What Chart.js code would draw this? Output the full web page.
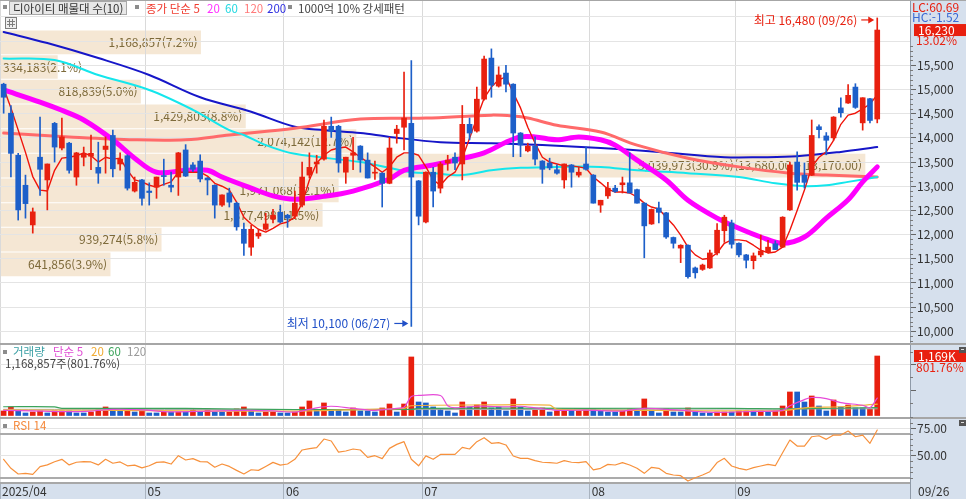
<!DOCTYPE html>
<html lang="ko">
<head>
<meta charset="utf-8">
<title>디아이티 일봉</title>
<script src="https://cdn.jsdelivr.net/npm/chart.js@4.4.1/dist/chart.umd.min.js"></script>
<style>
  html, body { margin: 0; padding: 0; background: #fff; overflow: hidden; }
  #board { position: relative; width: 966px; height: 499px; background: #fff; }
  #board canvas { position: absolute; left: 0; }
</style>
</head>
<body>
<div id="board">
  <canvas id="profile-chart" width="910" height="343" style="top:0;width:910px;height:343px"></canvas>
  <canvas id="price-chart" width="966" height="343" style="top:0;width:966px;height:343px"></canvas>
  <canvas id="volume-chart" width="966" height="73" style="top:343px;width:966px;height:73px"></canvas>
  <canvas id="rsi-chart" width="966" height="83" style="top:416px;width:966px;height:83px"></canvas>
</div>
<script>
/* ===============================================
   디아이티 daily chart - candles, moving averages,
   volume profile, volume and RSI panels
   =============================================== */

// ── Axis data ──
var SLOTS = 125;                       // 121 trading days + blank right margin
var MONTH_START = [0, 20, 39, 58, 81, 101];
var MONTH_LABEL = ['2025/04', '05', '06', '07', '08', '09'];
var LAST_DATE = '09/26';
var PRICE_TICKS = [10000, 10500, 11000, 11500, 12000, 12500, 13000, 13500, 14000, 14500, 15000, 15500, 16000, 16500];
var VOL_TICKS = [0, 500, 1000];
var RSI_TICKS = [30, 50, 70, 75];

// ── Daily prices (2025/04/03 .. 2025/09/26) ──
var OPEN = [
  15110, 14510, 13640, 13020, 12200, 13600, 13130, 14300, 13790, 13890,
  13190, 13600, 13620, 13390, 13760, 14050, 13460, 13630, 12900, 13130,
  12900, 12980, 13220, 13020, 13190, 13750, 13440, 13520, 13170, 13020,
  12610, 12860, 12650, 12110, 11740, 11970, 12110, 12320, 12460, 12400,
  12380, 12610, 13230, 13460, 13560, 14240, 14240, 13290, 13640, 13830,
  13540, 13270, 13270, 13060, 14090, 14220, 14300, 13110, 12260, 13290,
  12960, 13480, 13600, 13460, 14280, 14140, 14800, 15650, 15070, 15340,
  15110, 14100, 13730, 13830, 13520, 13480, 13340, 13130, 13440, 13230,
  13460, 13230, 12610, 12800, 12960, 13030, 13070, 12930, 12650, 12220,
  12550, 12450, 11940, 11720, 11780, 11310, 11280, 11310, 11620, 12080,
  12240, 11820, 11580, 11460, 11580, 11640, 11810, 11740, 12510, 13500,
  13230, 13230, 14230, 14040, 14000, 14620, 14720, 15050, 14310, 14810,
  14390
];
var HIGH = [
  15130, 14670, 13680, 13230, 12550, 14430, 13460, 14320, 14410, 13910,
  13700, 13810, 14060, 13910, 14020, 14160, 13690, 13650, 13190, 13140,
  13070, 13190, 13560, 13290, 13700, 13860, 13490, 13650, 13180, 13030,
  12820, 12960, 12670, 12240, 12190, 12110, 12440, 12520, 12610, 12420,
  12900, 13500, 13690, 13640, 14370, 14430, 14260, 13600, 14010, 13840,
  13690, 13520, 13280, 14010, 14260, 15360, 15600, 13120, 13300, 13390,
  13500, 13640, 13690, 14670, 14410, 15050, 15690, 15840, 15470, 15500,
  15120, 14110, 13890, 14020, 13530, 13580, 13440, 13460, 13450, 13390,
  13810, 13240, 12710, 13080, 13020, 13190, 13690, 12940, 12660, 12530,
  12670, 12460, 11950, 11790, 11790, 11330, 11390, 11680, 12230, 12400,
  12300, 11830, 11590, 11620, 11990, 11880, 11870, 12370, 13500, 13710,
  13480, 14370, 14270, 14110, 14440, 14830, 15100, 15120, 14830, 14820,
  16480
];
var LOW = [
  14510, 13190, 12300, 12340, 12030, 12810, 12510, 13500, 13750, 13270,
  13020, 13420, 13340, 13060, 13270, 13190, 13330, 12920, 12880, 12610,
  12610, 12750, 13020, 12880, 12810, 13200, 13300, 13090, 12820, 12340,
  12580, 12570, 12090, 11570, 11570, 11920, 12090, 12240, 12240, 12150,
  12330, 12570, 13170, 13270, 13540, 14010, 13290, 13060, 13340, 13290,
  13170, 13140, 12570, 13050, 13890, 13750, 10100, 12200, 12240, 12570,
  12860, 13330, 13340, 13130, 13960, 14120, 14780, 14840, 15050, 14950,
  13610, 13610, 13710, 13440, 13060, 13340, 13250, 12960, 12980, 13190,
  13330, 12650, 12460, 12750, 12870, 12860, 12860, 12650, 11520, 12210,
  12240, 11920, 11720, 11420, 11100, 11100, 11260, 11300, 11580, 11840,
  11720, 11540, 11310, 11290, 11540, 11620, 11690, 11730, 12500, 12920,
  12960, 13220, 14000, 13650, 13950, 14430, 14710, 14610, 14160, 14310,
  14310
];
var CLOSE = [
  14840, 13680, 12510, 12640, 12470, 13350, 13460, 13810, 14020, 13330,
  13690, 13660, 13680, 13270, 13830, 13360, 13560, 12960, 13080, 12750,
  12870, 13190, 13200, 12980, 13690, 13210, 13350, 13150, 13130, 12610,
  12820, 12670, 12160, 11820, 12110, 12030, 12220, 12400, 12260, 12340,
  12650, 13190, 13390, 13500, 14240, 14140, 13480, 13600, 13690, 13540,
  13170, 13290, 13060, 13790, 14180, 14410, 13190, 12380, 13290, 12900,
  13460, 13540, 13480, 14280, 14100, 14800, 15630, 15090, 15300, 15110,
  14100, 13850, 13830, 13560, 13350, 13380, 13270, 13460, 13290, 13290,
  13350, 12650, 12710, 12960, 12890, 13070, 12860, 12650, 12180, 12520,
  12460, 11950, 11820, 11780, 11130, 11210, 11370, 11620, 12090, 12360,
  11800, 11580, 11470, 11560, 11660, 11740, 11690, 12360, 13440, 13080,
  13080, 14050, 14170, 13950, 14430, 14520, 14880, 14630, 14830, 14360,
  16230
];

// ── Price moving averages ──
var MA5 = [
  15030, 14620, 14160, 13700, 13200, 12920, 12900, 13330, 13580, 13600,
  13630, 13690, 13630, 13500, 13600, 13560, 13580, 13330, 13130, 13090,
  13020, 12980, 13040, 13090, 13290, 13290, 13290, 13290, 13210, 13060,
  13000, 12920, 12670, 12360, 12220, 12110, 12050, 12130, 12220, 12260,
  12360, 12650, 13130, 13480, 13640, 13750, 13790, 13810, 13710, 13600,
  13500, 13400, 13290, 13400, 13600, 13690, 13690, 13640, 13400, 13130,
  13020, 13190, 13290, 13580, 13990, 14410, 14820, 15050, 15200, 15260,
  14930, 14620, 14220, 13890, 13600, 13500, 13460, 13420, 13420, 13400,
  13370, 13190, 13070, 12940, 12880, 12880, 12860, 12780, 12650, 12570,
  12530, 12360, 12200, 11990, 11740, 11580, 11490, 11510, 11620, 11820,
  11890, 11890, 11870, 11780, 11680, 11620, 11640, 11740, 12090, 12500,
  12920, 13400, 13600, 13710, 13950, 14280, 14470, 14510, 14600, 14700,
  14890
];
var MA20 = [[0, 14990], [5, 14740], [8, 14570], [11, 14370], [15, 13960], [18, 13580], [21, 13290],
  [25, 13330], [28, 13330], [30, 13190], [34, 12960], [37, 12800], [40, 12730], [44, 12790],
  [48, 12900], [53, 13150], [55, 13330], [59, 13440], [62, 13540], [66, 13690], [69, 13910],
  [71, 14020], [73, 14020], [76, 13960], [79, 14020], [82, 13960], [84, 13850], [87, 13540],
  [91, 13130], [94, 12710], [98, 12340], [101, 12130], [104, 11950], [107, 11820], [110, 11950],
  [113, 12340], [116, 12720], [118, 13090], [120, 13400]];
var MA60 = [[0, 15640], [7, 15610], [13, 15300], [20, 14990], [26, 14580], [31, 14160], [33, 14060],
  [36, 13850], [40, 13670], [49, 13500], [53, 13380], [56, 13290], [59, 13270], [63, 13230],
  [67, 13330], [71, 13380], [76, 13400], [82, 13400], [87, 13330], [94, 13270], [101, 13190],
  [106, 13060], [110, 13000], [113, 13020], [116, 13090], [120, 13190]];
var MA120 = [[0, 14100], [9, 14020], [18, 13960], [25, 13960], [31, 14060], [40, 14200], [49, 14390],
  [58, 14410], [67, 14470], [70, 14450], [72, 14410], [76, 14260], [82, 14120], [87, 13850],
  [94, 13580], [101, 13400], [108, 13270], [113, 13230], [120, 13190]];
var MA200 = [[0, 16190], [6, 15960], [13, 15650], [20, 15300], [27, 14840], [34, 14540], [40, 14230],
  [44, 14160], [49, 14100], [53, 14020], [60, 13910], [67, 13890], [74, 13850], [82, 13790],
  [90, 13710], [99, 13600], [104, 13600], [109, 13620], [115, 13710], [120, 13810]];

// ── Volume profile (10 close-price bands) ──
var PROFILE_EDGES = [11130, 11640, 12150, 12660, 13170, 13680, 14190, 14700, 15210, 15720, 16230];
var PROFILE_VOL = [641856, 939274, 1877498, 1971068, 5039973, 2074142, 1429803, 818839, 334183, 1168857];

// ── Volume (thousand shares), 1 = red bar ──
var VOLUME = [
  98, 176, 117, 59, 78, 98, 59, 98, 98, 98,
  59, 59, 78, 137, 176, 137, 117, 137, 78, 137,
  59, 59, 78, 78, 78, 78, 137, 78, 137, 78,
  78, 78, 137, 176, 117, 59, 78, 78, 59, 59,
  78, 176, 293, 117, 254, 98, 117, 78, 156, 98,
  98, 78, 156, 234, 78, 234, 1150, 273, 254, 176,
  137, 98, 59, 273, 176, 215, 273, 156, 176, 98,
  332, 176, 98, 117, 156, 78, 98, 117, 117, 98,
  137, 137, 98, 78, 78, 98, 137, 117, 332, 117,
  59, 137, 78, 78, 156, 78, 59, 59, 78, 78,
  78, 98, 98, 98, 98, 78, 98, 195, 468, 468,
  273, 390, 195, 98, 312, 176, 215, 156, 156, 129.619,
  1168.857
];
var VOL_UP = [
  1, 1, 0, 0, 1, 1, 0, 1, 1, 0,
  0, 0, 1, 1, 1, 0, 0, 1, 0, 1,
  0, 0, 1, 0, 1, 0, 1, 0, 1, 0,
  0, 1, 1, 1, 0, 0, 1, 1, 0, 0,
  1, 1, 1, 0, 1, 0, 0, 0, 1, 0,
  0, 0, 1, 1, 0, 1, 1, 0, 0, 0,
  0, 0, 0, 1, 0, 1, 1, 0, 0, 0,
  1, 0, 0, 1, 1, 0, 1, 1, 0, 1,
  1, 0, 0, 0, 0, 1, 1, 0, 1, 0,
  0, 1, 0, 0, 1, 0, 0, 0, 1, 1,
  0, 1, 1, 0, 1, 0, 1, 1, 1, 0,
  0, 1, 0, 0, 1, 0, 1, 0, 0, 1,
  1
];
var VOL_MA5 = [[0, 110], [4, 100], [8, 85], [12, 95], [15, 130], [19, 120], [23, 80], [28, 95], [33, 110],
  [37, 100], [40, 75], [43, 160], [45, 190], [48, 150], [51, 110], [54, 150], [55, 170], [56, 380],
  [57, 400], [60, 400], [61, 200], [62, 160], [65, 190], [69, 180], [71, 190], [73, 160], [76, 110],
  [80, 115], [85, 95], [88, 150], [90, 140], [94, 100], [98, 70], [103, 90], [107, 110], [108, 200],
  [110, 320], [111, 360], [113, 340], [115, 260], [118, 210], [119, 160], [120, 350]];
var VOL_MA20 = [[0, 120], [20, 105], [40, 95], [50, 130], [55, 150], [56, 200], [66, 215], [75, 210],
  [76, 130], [90, 110], [107, 105], [110, 160], [115, 180], [120, 230]];
var VOL_MA60 = [[0, 180], [7, 178], [8, 150], [25, 148], [40, 125], [56, 130], [57, 150], [80, 150],
  [100, 150], [108, 140], [120, 165]];
var VOL_MA120 = [[0, 130], [60, 125], [120, 140]];

// ── RSI 14 ──
var RSI = [
  46.7, 38.5, 33.3, 33.9, 33.0, 40.0, 41.6, 44.5, 46.7, 41.6,
  44.0, 44.6, 44.3, 41.6, 46.7, 43.1, 44.3, 40.8, 41.4, 38.9,
  40.8, 43.9, 44.3, 42.4, 50.0, 46.1, 47.3, 44.6, 44.3, 39.5,
  42.4, 40.2, 36.6, 33.3, 37.2, 36.6, 40.2, 43.9, 41.4, 42.4,
  46.7, 55.2, 56.4, 57.3, 65.2, 63.4, 53.3, 54.3, 56.1, 55.2,
  48.5, 50.0, 47.3, 56.7, 60.3, 62.8, 46.7, 40.8, 49.8, 46.7,
  51.2, 51.2, 51.2, 57.6, 56.1, 62.8, 66.4, 61.3, 61.9, 59.8,
  49.7, 47.6, 47.6, 45.5, 44.0, 43.7, 43.1, 45.5, 44.0, 43.7,
  44.6, 37.0, 38.5, 42.1, 41.5, 43.7, 41.5, 38.5, 33.9, 39.4,
  38.5, 33.9, 32.4, 31.8, 26.9, 29.9, 32.4, 35.4, 43.7, 47.6,
  40.6, 38.5, 37.0, 39.1, 40.6, 42.1, 40.9, 52.7, 64.3, 58.8,
  58.8, 67.3, 68.2, 64.9, 68.8, 68.8, 72.5, 67.3, 68.8, 61.3,
  73.4
];

// ── Look ──
var FONT = '"Noto Sans CJK KR", "Noto Sans", sans-serif';
var RED = '#e8200f';
var BLUE = '#1d5fc9';
var AXIS_BG = '#d6e0ed';
var GRID = '#e4e4e4';

Chart.defaults.font.family = FONT;
Chart.defaults.font.size = 12;

// ── Helpers ──

function toPoints(pairs) {
  return pairs.map(function(p) { return { x: p[0], y: p[1] }; });
}

function seriesPoints(arr) {
  return arr.map(function(v, i) { return { x: i, y: v }; });
}

function fmt(v) {
  return v.toLocaleString('en-US');
}

function drawText(ctx, text, x, y, color, size, align) {
  ctx.save();
  ctx.font = (size || 12) + 'px ' + FONT;
  ctx.fillStyle = color;
  ctx.textAlign = align || 'left';
  ctx.textBaseline = 'middle';
  ctx.fillText(text, x, y);
  ctx.restore();
}

function drawArrow(ctx, x1, x2, y, color) {
  ctx.save();
  ctx.strokeStyle = color;
  ctx.fillStyle = color;
  ctx.lineWidth = 1.2;
  ctx.beginPath();
  ctx.moveTo(x1, y);
  ctx.lineTo(x2 - 4, y);
  ctx.stroke();
  ctx.beginPath();
  ctx.moveTo(x2, y);
  ctx.lineTo(x2 - 6, y - 3.5);
  ctx.lineTo(x2 - 6, y + 3.5);
  ctx.closePath();
  ctx.fill();
  ctx.restore();
}

function bullet(ctx, x, y) {
  ctx.fillStyle = '#8c8c8c';
  ctx.fillRect(x, y, 4, 4);
}

function panelIcon(ctx, x, y) {
  ctx.fillStyle = '#555';
  ctx.fillRect(x, y, 7, 6);
  ctx.fillStyle = '#ddd';
  ctx.fillRect(x + 2, y + 2, 3, 1);
}

function lineSet(label, points, color, width, tension, order) {
  return {
    type: 'line', label: label, data: points,
    borderColor: color, borderWidth: width, tension: tension,
    pointRadius: 0, borderCapStyle: 'round', borderJoinStyle: 'round', order: order
  };
}

function xScale(stripHeight) {
  return {
    type: 'linear', min: -0.5, max: SLOTS - 0.5, offset: false,
    afterBuildTicks: function(axis) {
      axis.ticks = MONTH_START.map(function(i) { return { value: i - 0.5 }; });
    },
    ticks: { display: false, autoSkip: false },
    grid: { offset: false, color: '#dadada', lineWidth: 1, drawTicks: stripHeight > 0, tickLength: stripHeight, tickColor: '#a9b3bf' },
    border: { display: stripHeight > 0, color: '#a8a8a8', width: 2 },
    afterFit: function(axis) { axis.height = stripHeight; axis.paddingLeft = 0; axis.paddingRight = 0; }
  };
}

function fitRight(axis) {
  axis.width = 56;
  axis.paddingTop = 0;
  axis.paddingBottom = 0;
}

function fillAxisBg(chart) {
  var ctx = chart.ctx, ca = chart.chartArea;
  ctx.save();
  ctx.fillStyle = AXIS_BG;
  ctx.fillRect(ca.right, 0, chart.width - ca.right, chart.height);
  ctx.restore();
}

function minorTicks(chart, from, to, step, skip) {
  var ctx = chart.ctx, y = chart.scales.y, x0 = chart.chartArea.right;
  ctx.save();
  ctx.fillStyle = '#7a7a7a';
  for (var v = from; v <= to; v += step) {
    if (skip && v % skip === 0) continue;
    ctx.fillRect(x0, Math.round(y.getPixelForValue(v)), 3, 1);
  }
  ctx.restore();
}

// ── Volume profile layer (drawn under the price panel) ──

var profileLabels = {
  id: 'profileLabels',
  afterDatasetsDraw: function(chart) {
    var ctx = chart.ctx, xs = chart.scales.x, ys = chart.scales.y;
    var total = PROFILE_VOL.reduce(function(a, b) { return a + b; }, 0);
    var maxVol = Math.max.apply(null, PROFILE_VOL);
    ctx.save();
    ctx.font = '12px ' + FONT;
    for (var k = 0; k < PROFILE_VOL.length; k++) {
      var label = fmt(PROFILE_VOL[k]) + '(' + (PROFILE_VOL[k] / total * 100).toFixed(1) + '%)';
      if (PROFILE_VOL[k] === maxVol) {
        label += '(' + PROFILE_EDGES[k + 1].toLocaleString('en-US', { minimumFractionDigits: 2 }) +
          ' ~ ' + PROFILE_EDGES[k].toLocaleString('en-US', { minimumFractionDigits: 2 }) + ')';
      }
      var end = xs.getPixelForValue(PROFILE_VOL[k]);
      var y = ys.getPixelForValue((PROFILE_EDGES[k] + PROFILE_EDGES[k + 1]) / 2);
      var w = ctx.measureText(label).width;
      var x = end - 3 - w < 3 ? 3 : end - 3 - w;
      drawText(ctx, label, x, y, '#7d6a3a', 12, 'left');
    }
    ctx.restore();
  }
};

new Chart(document.getElementById('profile-chart'), {
  type: 'bar',
  data: {
    datasets: [{
      label: '매물대',
      data: PROFILE_VOL.map(function(v, k) {
        return { x: v, y: (PROFILE_EDGES[k] + PROFILE_EDGES[k + 1]) / 2 };
      }),
      backgroundColor: '#f5e7d4',
      barThickness: 23
    }]
  },
  options: {
    indexAxis: 'y',
    responsive: false, animation: false, devicePixelRatio: 1,
    layout: { padding: 0 },
    plugins: { legend: { display: false }, tooltip: { enabled: false } },
    scales: {
      x: { type: 'linear', min: 0, max: 5302000, display: false },
      y: { type: 'linear', min: 9758, max: 16851, display: false, offset: false }
    }
  },
  plugins: [profileLabels]
});

// ── Price panel ──

var priceDecor = {
  id: 'priceDecor',
  beforeDraw: fillAxisBg,
  afterDraw: function(chart) {
    var ctx = chart.ctx, xs = chart.scales.x, ys = chart.scales.y;
    var n = CLOSE.length - 1;

    ctx.fillStyle = '#a6a6a6';
    ctx.fillRect(0, 0, chart.width, 1);
    minorTicks(chart, 9800, 15900, 100, 500);

    // legend row
    bullet(ctx, 3, 5);
    ctx.fillStyle = '#e8e8e8';
    ctx.fillRect(9, 1, 118, 14);
    ctx.strokeStyle = '#a8a8a8';
    ctx.strokeRect(9.5, 1.5, 117, 13);
    drawText(ctx, '디아이티 매물대 수(10)', 13, 8.5, '#333', 11.5);
    bullet(ctx, 135, 5);
    drawText(ctx, '종가 단순 5', 146, 8.5, '#f03c30', 11.5);
    drawText(ctx, '20', 207, 8.5, '#ff30ff', 11.5);
    drawText(ctx, '60', 225, 8.5, '#22d8e0', 11.5);
    drawText(ctx, '120', 244, 8.5, '#ff7a7a', 11.5);
    drawText(ctx, '200', 267, 8.5, '#3030e0', 11.5);
    bullet(ctx, 288, 5);
    drawText(ctx, '1000억 10% 강세패턴', 298, 8.5, '#444', 11.5);

    // small table button
    ctx.fillStyle = '#efefef';
    ctx.fillRect(5, 17, 12, 12);
    ctx.strokeStyle = '#7d7d7d';
    ctx.strokeRect(5.5, 17.5, 11, 11);
    ctx.fillStyle = '#7d7d7d';
    ctx.fillRect(7, 21, 8, 1);
    ctx.fillRect(7, 24, 8, 1);
    ctx.fillRect(9, 19, 1, 8);
    ctx.fillRect(12, 19, 1, 8);

    // highest / lowest marks
    var hx = xs.getPixelForValue(n), hy = ys.getPixelForValue(HIGH[n]);
    drawText(ctx, '최고 ' + fmt(HIGH[n]) + ' (09/26)', hx - 20, hy + 2, RED, 12, 'right');
    drawArrow(ctx, hx - 16, hx - 3, hy + 2, RED);
    var li = LOW.indexOf(Math.min.apply(null, LOW));
    var lx = xs.getPixelForValue(li), ly = ys.getPixelForValue(LOW[li]);
    drawText(ctx, '최저 ' + fmt(LOW[li]) + ' (06/27)', lx - 21, ly - 3, '#2050c8', 12, 'right');
    drawArrow(ctx, lx - 17, lx - 3, ly - 3, '#2050c8');

    // right axis captions
    var ax = chart.chartArea.right;
    drawText(ctx, 'LC:60.69', ax + 2, 7, RED, 12);
    drawText(ctx, 'HC:-1.52', ax + 2, 17.5, '#3a6ad4', 12);
    var cy = ys.getPixelForValue(CLOSE[n]);
    ctx.fillStyle = RED;
    ctx.fillRect(ax + 4, cy - 6, chart.width - ax - 4, 12);
    drawText(ctx, fmt(CLOSE[n]), ax + 8, cy, '#fff', 12);
    var pct = (CLOSE[n] / CLOSE[n - 1] - 1) * 100;
    drawText(ctx, pct.toFixed(2) + '%', ax + 6, cy + 10, RED, 12);
  }
};

var candleColors = CLOSE.map(function(c, i) { return c >= OPEN[i] ? RED : BLUE; });

new Chart(document.getElementById('price-chart'), {
  type: 'bar',
  data: {
    datasets: [
      {
        label: '몸통',
        data: OPEN.map(function(o, i) { return { x: i, y: [o, CLOSE[i]] }; }),
        backgroundColor: candleColors, barThickness: 5, minBarLength: 1, grouped: false, order: 0
      },
      {
        label: '꼬리',
        data: LOW.map(function(l, i) { return { x: i, y: [l, HIGH[i]] }; }),
        backgroundColor: candleColors, barThickness: 1, grouped: false, order: 1
      },
      lineSet('5', seriesPoints(MA5), '#f0140a', 1.4, 0, 2),
      lineSet('20', toPoints(MA20), '#ff00ff', 5, 0.35, 3),
      lineSet('60', toPoints(MA60), '#14e6ec', 2, 0.35, 4),
      lineSet('120', toPoints(MA120), '#ff6a6a', 3, 0.35, 5),
      lineSet('200', toPoints(MA200), '#1616c8', 2, 0.35, 6)
    ]
  },
  options: {
    responsive: false, animation: false, devicePixelRatio: 1,
    layout: { padding: 0 },
    plugins: { legend: { display: false }, tooltip: { enabled: false } },
    scales: {
      x: xScale(0),
      y: {
        type: 'linear', position: 'right', min: 9758, max: 16851, beginAtZero: false,
        afterBuildTicks: function(axis) {
          axis.ticks = PRICE_TICKS.map(function(v) { return { value: v }; });
        },
        ticks: {
          color: '#333', padding: 1, font: { size: 12 },
          callback: function(v) { return v >= 16000 ? '' : fmt(v); }
        },
        grid: {
          color: GRID, tickLength: 6,
          tickColor: function(c) { return c.tick && c.tick.value >= 16000 ? 'rgba(0,0,0,0)' : '#666'; }
        },
        border: { display: true, color: '#8f9aa8' },
        afterFit: fitRight
      }
    }
  },
  plugins: [priceDecor]
});

// ── Volume panel ──

var volumeDecor = {
  id: 'volumeDecor',
  beforeDraw: fillAxisBg,
  afterDraw: function(chart) {
    var ctx = chart.ctx, ys = chart.scales.y, ax = chart.chartArea.right;
    var n = VOLUME.length - 1;
    ctx.fillStyle = '#a6a6a6';
    ctx.fillRect(0, 0, chart.width, 2);
    minorTicks(chart, 250, 1250, 250, 500);

    bullet(ctx, 3, 7);
    drawText(ctx, '거래량', 13, 9, '#3a9fa4', 11.5);
    drawText(ctx, '단순 5', 53, 9, '#e04ed4', 11.5);
    drawText(ctx, '20', 91, 9, '#f0aa30', 11.5);
    drawText(ctx, '60', 108, 9, '#3aa35a', 11.5);
    drawText(ctx, '120', 127, 9, '#9a9a9a', 11.5);
    var ratio = (VOLUME[n] / VOLUME[n - 1] - 1) * 100;
    drawText(ctx, fmt(Math.round(VOLUME[n] * 1000)) + '주(' + ratio.toFixed(2) + '%)', 5, 20.5, '#444', 11.5);

    var vy = ys.getPixelForValue(VOLUME[n]);
    ctx.fillStyle = RED;
    ctx.fillRect(ax + 4, vy - 6, chart.width - ax - 4, 12);
    drawText(ctx, fmt(Math.round(VOLUME[n])) + 'K', ax + 8, vy, '#fff', 12);
    drawText(ctx, ratio.toFixed(2) + '%', ax + 6, vy + 11, RED, 12);
    panelIcon(ctx, chart.width - 7, 4);
  }
};

new Chart(document.getElementById('volume-chart'), {
  type: 'bar',
  data: {
    datasets: [
      {
        label: '거래량',
        data: seriesPoints(VOLUME),
        backgroundColor: VOL_UP.map(function(u) { return u ? RED : BLUE; }),
        barThickness: 5, grouped: false, order: 5
      },
      lineSet('120', toPoints(VOL_MA120), '#a8a8a8', 1, 0.3, 4),
      lineSet('60', toPoints(VOL_MA60), '#3aa35a', 1.2, 0.3, 3),
      lineSet('20', toPoints(VOL_MA20), '#f2b33d', 1.2, 0.3, 2),
      lineSet('5', toPoints(VOL_MA5), '#e64ad8', 1.2, 0.3, 1)
    ]
  },
  options: {
    responsive: false, animation: false, devicePixelRatio: 1,
    layout: { padding: 0 },
    plugins: { legend: { display: false }, tooltip: { enabled: false } },
    scales: {
      x: xScale(0),
      y: {
        type: 'linear', position: 'right', min: 0, max: 1422,
        afterBuildTicks: function(axis) {
          axis.ticks = VOL_TICKS.map(function(v) { return { value: v }; });
        },
        ticks: { callback: function() { return ''; } },
        grid: {
          color: function(c) { return c.tick && c.tick.value === 1000 ? GRID : 'rgba(0,0,0,0)'; },
          tickLength: 6, tickColor: '#666'
        },
        border: { display: true, color: '#8f9aa8' },
        afterFit: fitRight
      }
    }
  },
  plugins: [volumeDecor]
});

// ── RSI panel + date strip ──

var rsiDecor = {
  id: 'rsiDecor',
  beforeDraw: function(chart) {
    var ctx = chart.ctx, ca = chart.chartArea;
    fillAxisBg(chart);
    ctx.save();
    ctx.fillStyle = AXIS_BG;
    ctx.fillRect(0, ca.bottom, chart.width, chart.height - ca.bottom);
    ctx.restore();
  },
  afterDraw: function(chart) {
    var ctx = chart.ctx, ca = chart.chartArea, xs = chart.scales.x;
    ctx.fillStyle = '#a6a6a6';
    ctx.fillRect(0, 1, chart.width, 2);
    minorTicks(chart, 30, 85, 5, 25);

    bullet(ctx, 3, 8);
    drawText(ctx, 'RSI 14', 13, 9.5, '#f5883a', 11.5);
    panelIcon(ctx, chart.width - 7, 4);

    for (var m = 0; m < MONTH_START.length; m++) {
      drawText(ctx, MONTH_LABEL[m], xs.getPixelForValue(MONTH_START[m] - 0.5) + 2, ca.bottom + 8.5, '#333', 12);
    }
    ctx.fillStyle = '#8f9aa8';
    ctx.fillRect(ca.right, ca.bottom, 1, chart.height - ca.bottom);
    drawText(ctx, LAST_DATE, ca.right + 8, ca.bottom + 8.5, '#333', 12);
  }
};

new Chart(document.getElementById('rsi-chart'), {
  type: 'line',
  data: {
    datasets: [lineSet('RSI 14', seriesPoints(RSI), '#f7913c', 1.2, 0, 0)]
  },
  options: {
    responsive: false, animation: false, devicePixelRatio: 1,
    layout: { padding: 0 },
    plugins: { legend: { display: false }, tooltip: { enabled: false } },
    scales: {
      x: xScale(16),
      y: {
        type: 'linear', position: 'right', min: 25.1, max: 86.2,
        afterBuildTicks: function(axis) {
          axis.ticks = RSI_TICKS.map(function(v) { return { value: v }; });
        },
        ticks: {
          color: '#333', padding: 1, font: { size: 12 },
          callback: function(v) { return v === 50 || v === 75 ? v.toFixed(2) : ''; }
        },
        grid: {
          color: function(c) { return c.tick && (c.tick.value === 30 || c.tick.value === 70) ? '#ababab' : GRID; },
          lineWidth: function(c) { return c.tick && (c.tick.value === 30 || c.tick.value === 70) ? 2 : 1; },
          tickLength: 6,
          tickColor: function(c) { return c.tick && (c.tick.value === 50 || c.tick.value === 75) ? '#666' : 'rgba(0,0,0,0)'; }
        },
        border: { display: true, color: '#8f9aa8' },
        afterFit: fitRight
      }
    }
  },
  plugins: [rsiDecor]
});
</script>
</body>
</html>
